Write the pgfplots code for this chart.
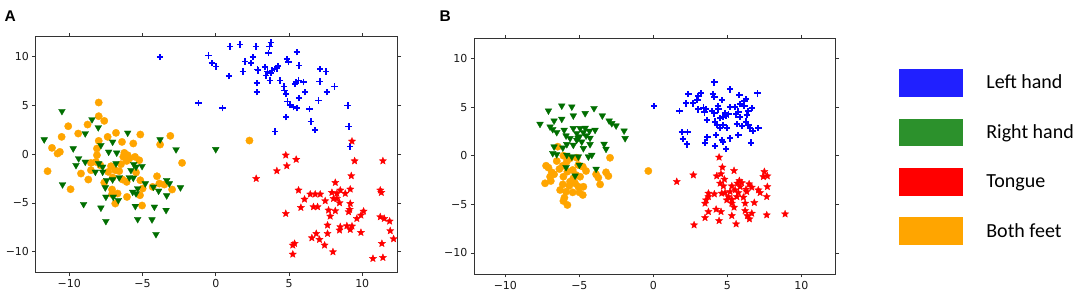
\documentclass[border=0pt]{standalone}
\usepackage{fontspec}
\usepackage{pgfplots}
\pgfplotsset{compat=1.18}
\newfontfamily\tickfont{DejaVu Sans}
\newfontfamily\legfont{Carlito}
\newfontfamily\labfont{Liberation Sans}
\definecolor{cblue}{RGB}{0,0,255}
\definecolor{cgreen}{RGB}{0,110,0}
\definecolor{cred}{RGB}{255,0,0}
\definecolor{corange}{RGB}{255,165,0}
\definecolor{lblue}{RGB}{32,32,255}
\definecolor{lgreen}{RGB}{44,145,44}
\definecolor{lred}{RGB}{255,0,0}
\definecolor{lorange}{RGB}{255,165,0}
\pgfdeclareplotmark{mstar}{%
  \pgfpathmoveto{\pgfpointpolar{90}{\pgfplotmarksize}}%
  \pgfpathlineto{\pgfpointpolar{126}{0.45*\pgfplotmarksize}}%
  \pgfpathlineto{\pgfpointpolar{162}{\pgfplotmarksize}}%
  \pgfpathlineto{\pgfpointpolar{198}{0.45*\pgfplotmarksize}}%
  \pgfpathlineto{\pgfpointpolar{234}{\pgfplotmarksize}}%
  \pgfpathlineto{\pgfpointpolar{270}{0.45*\pgfplotmarksize}}%
  \pgfpathlineto{\pgfpointpolar{306}{\pgfplotmarksize}}%
  \pgfpathlineto{\pgfpointpolar{342}{0.45*\pgfplotmarksize}}%
  \pgfpathlineto{\pgfpointpolar{18}{\pgfplotmarksize}}%
  \pgfpathlineto{\pgfpointpolar{54}{0.45*\pgfplotmarksize}}%
  \pgfpathclose
  \pgfusepathqfillstroke
}
\pgfdeclareplotmark{thickplus}{%
  \pgfsetlinewidth{1.8bp}%
  \pgfsetbuttcap
  \pgfpathmoveto{\pgfqpoint{-\pgfplotmarksize}{0pt}}%
  \pgfpathlineto{\pgfqpoint{\pgfplotmarksize}{0pt}}%
  \pgfpathmoveto{\pgfqpoint{0pt}{-\pgfplotmarksize}}%
  \pgfpathlineto{\pgfqpoint{0pt}{\pgfplotmarksize}}%
  \pgfusepathqstroke
}
\pgfplotsset{
  panel/.style={
    scale only axis,
    xtick={-10,-5,0,5,10}, xticklabels={−10,−5,0,5,10},
    ytick={-10,-5,0,5,10}, yticklabels={−10,−5,0,5,10},
    tick align=outside, major tick length=3.5bp,
    tick style={black!80, line width=0.8bp},
    axis line style={black!80, line width=1bp},
    ticklabel style={font=\tickfont\fontsize{11bp}{13bp}\selectfont, text=black!90},
    only marks,
  },
  sblue/.style={mark=thickplus, mark size=3.2bp, draw=cblue, line width=1.8bp},
  sgreen/.style={mark=triangle*, mark size=3.9bp, fill=cgreen, draw=cgreen, mark options={rotate=180, line width=0.3bp}},
  sred/.style={mark=mstar, mark size=3.8bp, fill=cred, draw=cred, mark options={line width=0.3bp}},
  sorange/.style={mark=*, mark size=3.7bp, fill=corange, draw=corange, mark options={line width=0.3bp}},
}
\begin{document}
\begin{tikzpicture}
\useasboundingbox (0,0) rectangle (1084bp,306bp);
\node[anchor=base west, inner sep=0pt, font=\labfont\bfseries\fontsize{15.5bp}{18bp}\selectfont] at (4.5bp,284bp) {A};
\node[anchor=base west, inner sep=0pt, font=\labfont\bfseries\fontsize{15.5bp}{18bp}\selectfont] at (439.5bp,284bp) {B};
% ---------------- Panel A ----------------
\begin{axis}[panel, at={(36bp,33.3bp)}, anchor=south west, width=361.7bp, height=236bp,
  xmin=-12.27, xmax=12.42, ymin=-12.15, ymax=12.05]
\addplot[sblue] coordinates {
(-0.50,10.12) (0.98,11.05) (1.66,11.25) (2.76,11.05) (3.76,11.45) (3.67,11.05) (3.60,10.39)
(-0.27,9.33) (0.02,9.00) (2.00,9.50) (2.53,9.95) (2.41,9.33) (2.85,8.69) (2.90,8.60)
(1.84,8.48) (0.91,8.00) (3.37,8.92) (3.53,8.48) (3.83,8.58) (4.01,8.75) (4.24,9.03)
(3.44,8.07) (3.76,8.31) (3.69,7.56) (2.80,7.28) (2.80,6.36) (4.85,9.78) (4.97,9.44)
(5.53,10.46) (5.69,9.09) (4.40,7.56) (4.67,6.94) (4.69,6.53) (4.80,6.19) (5.49,7.38)
(5.65,7.56) (5.42,7.21) (5.99,7.38) (6.11,6.36) (5.69,5.78) (4.90,5.40) (5.08,5.06)
(5.31,4.82) (5.53,4.72) (4.80,3.79) (4.06,2.33) (6.40,4.65) (6.49,3.35) (6.79,2.49)
(7.02,5.50) (7.09,7.45) (7.13,8.75) (7.54,8.48) (7.58,6.36) (8.11,6.94) (9.00,5.00)
(9.07,2.84) (9.18,0.79) (-1.18,5.26) (0.46,4.72) (-3.80,9.98) (4.20,8.80)
};
\addplot[sred] coordinates {
(9.30,1.33) (4.78,-0.10) (5.49,-0.54) (4.85,-1.20) (4.17,-1.71) (2.76,-2.50) (9.48,-0.69)
(11.41,-0.69) (9.25,-2.22) (8.16,-2.91) (9.18,-3.59) (5.65,-3.69) (6.45,-4.10) (6.79,-4.10)
(7.13,-4.10) (6.06,-4.62) (7.93,-3.93) (8.27,-4.03) (8.04,-4.55) (8.27,-4.55) (8.84,-4.03)
(7.47,-4.79) (8.45,-4.99) (9.18,-5.06) (9.14,-5.67) (11.23,-3.69) (11.30,-3.93) (5.81,-5.47)
(6.67,-5.40) (6.95,-5.40) (8.16,-5.81) (4.78,-6.09) (10.09,-5.85) (9.91,-6.26) (9.63,-6.60)
(7.81,-6.36) (11.23,-6.43) (11.50,-6.60) (11.87,-6.87) (7.63,-7.28) (8.50,-7.45) (8.95,-7.35)
(9.30,-7.38) (9.18,-7.73) (8.45,-7.79) (7.63,-8.14) (9.91,-8.03) (6.86,-8.14) (6.56,-8.58)
(7.08,-8.75) (11.91,-7.86) (12.14,-8.68) (11.34,-9.16) (7.43,-9.33) (5.38,-9.16) (5.26,-9.33)
(8.00,-10.02) (5.26,-10.26) (10.73,-10.70) (11.41,-10.60) (8.50,-3.69) (7.70,-5.74) (9.07,-5.91)
};
\addplot[sorange] coordinates {
(-7.99,5.30) (-7.99,3.90) (-7.61,3.42) (-8.75,3.04) (-10.07,2.87) (-9.39,2.12) (-10.52,1.78)
(-6.81,2.19) (-7.38,1.78) (-5.15,2.02) (-6.40,1.26) (-5.63,1.10) (-7.99,1.37) (-3.10,1.88)
(-3.80,0.99) (-11.18,0.65) (-10.64,0.24) (-10.80,0.07) (-8.11,0.58) (-8.11,-0.10) (-6.24,0.14)
(-6.01,-0.10) (-6.31,-0.27) (-5.90,-0.44) (-5.51,-0.27) (-6.08,-0.69) (-8.18,-0.79) (-7.88,-1.13)
(-8.52,-1.64) (-11.48,-1.74) (-2.30,-0.89) (-9.20,-1.98) (-8.70,-2.60) (-7.34,-1.81) (-6.86,-1.64)
(-6.59,-1.74) (-7.15,-1.23) (-4.01,-2.26) (-9.91,-3.59) (-7.08,-4.10) (-6.70,-4.03) (-6.06,-4.38)
(-5.17,-4.21) (-4.99,-3.52) (-3.85,-3.01) (-3.51,-3.11) (-2.98,-3.62) (-5.03,-5.26) (-6.86,-5.06)
(-7.08,-3.62) (-7.61,-2.91) (-6.08,-2.84) (-6.36,-2.60) (-5.15,-2.67) (-5.44,-1.88) (-8.52,-0.89)
(-4.31,-3.35) (-7.04,-2.39) (-6.47,-1.03) (-5.22,-0.62) (2.30,1.40)
};
\addplot[sgreen] coordinates {
(-10.50,4.41) (-11.71,1.50) (-8.45,3.56) (-8.02,2.74) (-8.91,2.12) (-6.01,2.19) (-7.04,1.26)
(-7.84,0.92) (-3.80,1.50) (-9.73,0.58) (-7.31,0.24) (-6.76,0.14) (-2.71,0.48) (-9.36,-0.44)
(-8.91,-0.79) (-9.54,-1.13) (-7.99,-0.96) (-7.72,-1.30) (-8.22,-1.81) (-7.72,-1.81) (-6.81,-0.96)
(-5.60,-1.03) (-5.44,-1.30) (-5.03,-1.23) (-5.79,-1.64) (-7.45,-2.67) (-7.04,-2.60) (-6.59,-2.39)
(-5.90,-2.39) (-5.63,-2.43) (-10.46,-3.11) (-7.54,-3.42) (-7.50,-4.38) (-7.00,-4.38) (-6.65,-4.72)
(-5.67,-3.87) (-5.33,-3.52) (-5.44,-4.03) (-4.81,-3.01) (-4.26,-3.35) (-3.90,-3.76) (-3.35,-2.67)
(-3.17,-3.01) (-3.35,-4.24) (-2.41,-3.42) (-9.02,-5.13) (-7.84,-5.50) (-5.49,-5.33) (-4.19,-5.40)
(-3.39,-5.74) (-7.50,-6.87) (-5.33,-6.67) (-4.35,-6.70) (-4.08,-8.21) (0.00,0.50)
};
\end{axis}
% ---------------- Panel B ----------------
\begin{axis}[panel, at={(474.3bp,32bp)}, anchor=south west, width=361.4bp, height=235.7bp,
  xmin=-12.1, xmax=12.32, ymin=-12.17, ymax=12.08,
  legend style={at={(1.175,0.8685)}, anchor=north west, draw=none, fill=none,
    inner sep=0pt, outer sep=0pt, row sep=22.5bp,
    nodes={inner sep=0pt, font=\legfont\fontsize{20bp}{24bp}\selectfont},
    /tikz/every odd column/.append style={column sep=24bp}},
  legend cell align=left]
\addplot[sblue, forget plot] coordinates {
(4.12,7.55) (5.18,6.83) (2.36,6.35) (3.20,6.48) (3.04,6.17) (4.01,6.35) (4.12,6.07) (7.03,6.42)
(5.81,6.25) (4.62,5.73) (6.26,5.83) (6.15,5.63) (2.21,5.39) (2.66,5.39) (2.97,5.73) (1.76,4.63)
(3.04,4.77) (3.38,4.94) (3.56,4.77) (3.45,4.46) (3.95,4.63) (4.12,4.36) (4.35,5.11) (4.39,4.77)
(5.18,5.04) (5.52,5.04) (5.86,5.32) (6.15,5.14) (6.65,4.88) (6.42,4.60) (4.84,4.42) (4.73,4.01)
(4.51,3.85) (4.91,4.12) (5.07,4.26) (5.59,4.26) (5.74,4.53) (5.86,4.01) (6.31,4.19) (3.61,3.67)
(4.17,3.50) (4.28,3.16) (4.73,3.16) (4.96,2.88) (4.51,2.88) (5.64,3.26) (5.97,3.06) (6.26,3.50)
(6.42,3.16) (6.53,2.82) (6.72,2.57) (7.09,2.88) (1.92,2.41) (2.30,2.47) (1.99,1.72) (2.26,1.17)
(3.65,1.89) (3.49,1.34) (4.24,2.13) (4.17,1.03) (4.62,1.62) (4.69,1.44) (5.18,1.79) (4.91,0.69)
(5.74,2.13) (6.60,1.34) (0.05,5.11)
};
\addplot[sred, forget plot] coordinates {
(4.44,-0.16) (4.66,-1.19) (5.45,-1.54) (2.70,-1.99) (1.58,-2.67) (7.50,-1.64) (7.70,-2.09)
(7.43,-2.16) (4.28,-2.09) (4.57,-1.88) (4.80,-2.43) (4.51,-2.84) (5.81,-2.57) (5.68,-2.84)
(5.97,-2.78) (5.30,-3.12) (6.47,-2.91) (7.70,-3.19) (6.65,-3.25) (6.26,-3.46) (7.09,-3.53)
(7.21,-3.81) (5.52,-3.53) (5.74,-3.81) (5.18,-3.70) (4.84,-3.81) (4.62,-3.87) (4.12,-3.94)
(3.72,-3.87) (3.72,-4.22) (3.56,-4.56) (3.49,-4.90) (5.07,-4.22) (5.30,-4.49) (4.96,-4.56)
(5.64,-4.22) (6.08,-4.28) (5.30,-4.90) (6.82,-4.83) (7.66,-4.22) (3.72,-5.76) (4.24,-5.52)
(4.57,-5.76) (5.45,-5.31) (6.20,-5.66) (6.65,-5.93) (6.35,-6.17) (6.49,-6.51) (3.49,-6.38)
(5.30,-6.17) (4.44,-6.69) (5.59,-7.03) (2.75,-7.13) (7.66,-6.10) (8.90,-6.00) (6.31,-3.70)
(5.86,-3.19) (4.73,-3.12) (6.20,-4.90)
};
\addplot[sorange, forget plot] coordinates {
(-6.46,0.93) (-6.08,0.00) (-2.93,-0.21) (-7.25,-1.03) (-7.09,-1.23) (-6.86,-1.71) (-6.71,-1.91)
(-7.32,-2.84) (-6.93,-2.60) (-6.12,-1.03) (-5.85,-0.62) (-5.63,-0.27) (-5.18,-0.21) (-5.81,-1.64)
(-6.08,-2.16) (-5.45,-1.47) (-4.77,-1.13) (-4.55,-1.57) (-5.41,-2.33) (-4.95,-2.16) (-6.12,-2.95)
(-5.68,-3.09) (-5.29,-2.84) (-5.07,-3.19) (-4.73,-3.19) (-6.30,-3.53) (-5.90,-3.70) (-5.45,-3.77)
(-5.00,-3.77) (-4.77,-4.04) (-6.01,-4.32) (-5.81,-5.07) (-6.08,-4.66) (-3.72,-2.26) (-3.60,-2.95)
(-3.20,-1.71) (-3.04,-2.09) (-3.87,-1.91) (-6.53,-0.55) (-6.35,-1.37) (-5.22,-1.99) (-5.63,-2.67)
(-0.34,-1.57) (-5.07,-0.96) (-6.98,-2.16)
};
\addplot[sgreen, forget plot] coordinates {
(-6.19,5.14) (-5.51,5.04) (-7.09,4.63) (-4.61,4.36) (-4.01,4.88) (-3.45,4.12) (-5.41,4.12)
(-6.71,3.60) (-6.19,3.78) (-7.66,3.26) (-6.98,2.98) (-2.99,3.60) (-2.81,3.33) (-2.52,3.09)
(-1.98,2.57) (-1.91,1.79) (-6.80,2.72) (-6.53,2.41) (-6.03,2.64) (-5.90,2.06) (-5.41,2.82)
(-5.18,2.30) (-4.95,2.82) (-4.73,2.41) (-5.00,1.96) (-4.55,2.06) (-4.32,2.54) (-3.94,2.64)
(-5.18,1.62) (-4.84,1.44) (-5.41,1.10) (-5.85,1.17) (-6.71,0.93) (-6.12,0.82) (-4.73,0.76)
(-4.28,1.17) (-3.33,1.20) (-3.20,0.69) (-6.80,0.25) (-6.53,0.14) (-5.85,0.07) (-5.51,-0.10)
(-5.07,-0.10) (-4.39,-0.10) (-4.16,0.07) (-5.00,-0.96) (-5.90,-1.19) (-3.87,-1.37) (-5.29,-2.06)
(-5.09,1.82) (-4.28,1.82) (-4.61,2.85) (-5.63,1.79)
};
\addlegendimage{legend image code/.code={\fill[lblue] (0bp,-13.25bp) rectangle (63bp,13.25bp);}}
\addlegendentry{Left hand}
\addlegendimage{legend image code/.code={\fill[lgreen] (0bp,-13.25bp) rectangle (63bp,13.25bp);}}
\addlegendentry{Right hand}
\addlegendimage{legend image code/.code={\fill[lred] (0bp,-13.25bp) rectangle (63bp,13.25bp);}}
\addlegendentry{Tongue}
\addlegendimage{legend image code/.code={\fill[lorange] (0bp,-13.25bp) rectangle (63bp,13.25bp);}}
\addlegendentry{Both feet}
\end{axis}
\end{tikzpicture}
\end{document}
